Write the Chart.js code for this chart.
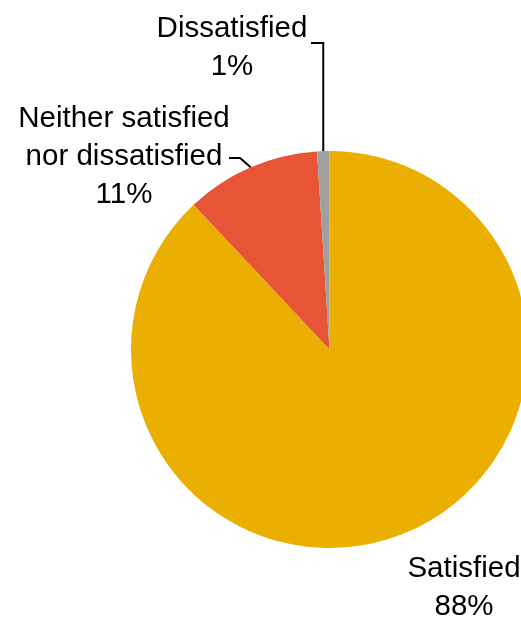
<!DOCTYPE html>
<html>
<head>
<meta charset="utf-8">
<script src="https://cdn.jsdelivr.net/npm/chart.js@4/dist/chart.umd.min.js"></script>
<style>
  html, body { margin: 0; padding: 0; background: #fff; overflow: hidden; }
  #wrap { width: 620px; height: 617px; }
</style>
</head>
<body>
<div id="wrap"><canvas id="myChart" width="620" height="617"></canvas></div>
<script>
const categories = ['Satisfied', 'Neither satisfied\nnor dissatisfied', 'Dissatisfied'];
const shares = [88, 11, 1];
const sliceColors = ['#EAAF00', '#E75436', '#A0A0A0'];

// where each label block sits (center x, first baseline) and the elbow of its leader line
const labelSpots = [
    { x: 464, y: 577, line: null },
    { x: 124, y: 127, line: { y: 158, x0: 229, x1: 240 } },
    { x: 232, y: 37, line: { y: 43, x0: 311, x1: 323, vertical: true } }
];

const outsideLabels = {
    id: 'outsideLabels',
    afterDatasetsDraw(chart) {
        const ctx = chart.ctx;
        const arcs = chart.getDatasetMeta(0).data;
        ctx.save();
        ctx.font = '29.5px "Liberation Sans", Arial, sans-serif';
        ctx.fillStyle = '#000';
        ctx.textAlign = 'center';
        ctx.textBaseline = 'alphabetic';
        arcs.forEach((arc, i) => {
            const spot = labelSpots[i];
            const lines = categories[i].split('\n').concat([shares[i] + '%']);
            lines.forEach((t, j) => ctx.fillText(t, spot.x, spot.y + j * 38));

            if (spot.line) {
                const p = arc.getProps(['x', 'y', 'startAngle', 'endAngle', 'outerRadius'], true);
                const mid = (p.startAngle + p.endAngle) / 2;
                const ex = p.x + Math.cos(mid) * p.outerRadius;
                const ey = p.y + Math.sin(mid) * p.outerRadius;
                ctx.strokeStyle = '#000';
                ctx.lineWidth = 2;
                ctx.beginPath();
                ctx.moveTo(spot.line.x0, spot.line.y);
                if (spot.line.vertical) {
                    ctx.lineTo(ex, spot.line.y);
                    ctx.lineTo(ex, ey);
                } else {
                    ctx.lineTo(spot.line.x1, spot.line.y);
                    ctx.lineTo(ex, ey);
                }
                ctx.stroke();
            }
        });
        ctx.restore();
    }
};

const ctx = document.getElementById('myChart').getContext('2d');
const myChart = new Chart(ctx, {
    type: 'pie',
    data: {
        labels: categories,
        datasets: [{
            data: shares,
            backgroundColor: sliceColors,
            borderWidth: 0
        }]
    },
    options: {
        responsive: false,
        animation: false,
        layout: { padding: { left: 131, top: 151, right: 92, bottom: 69 } },
        plugins: {
            legend: { display: false },
            tooltip: { enabled: false }
        }
    },
    plugins: [outsideLabels]
});
</script>
</body>
</html>
